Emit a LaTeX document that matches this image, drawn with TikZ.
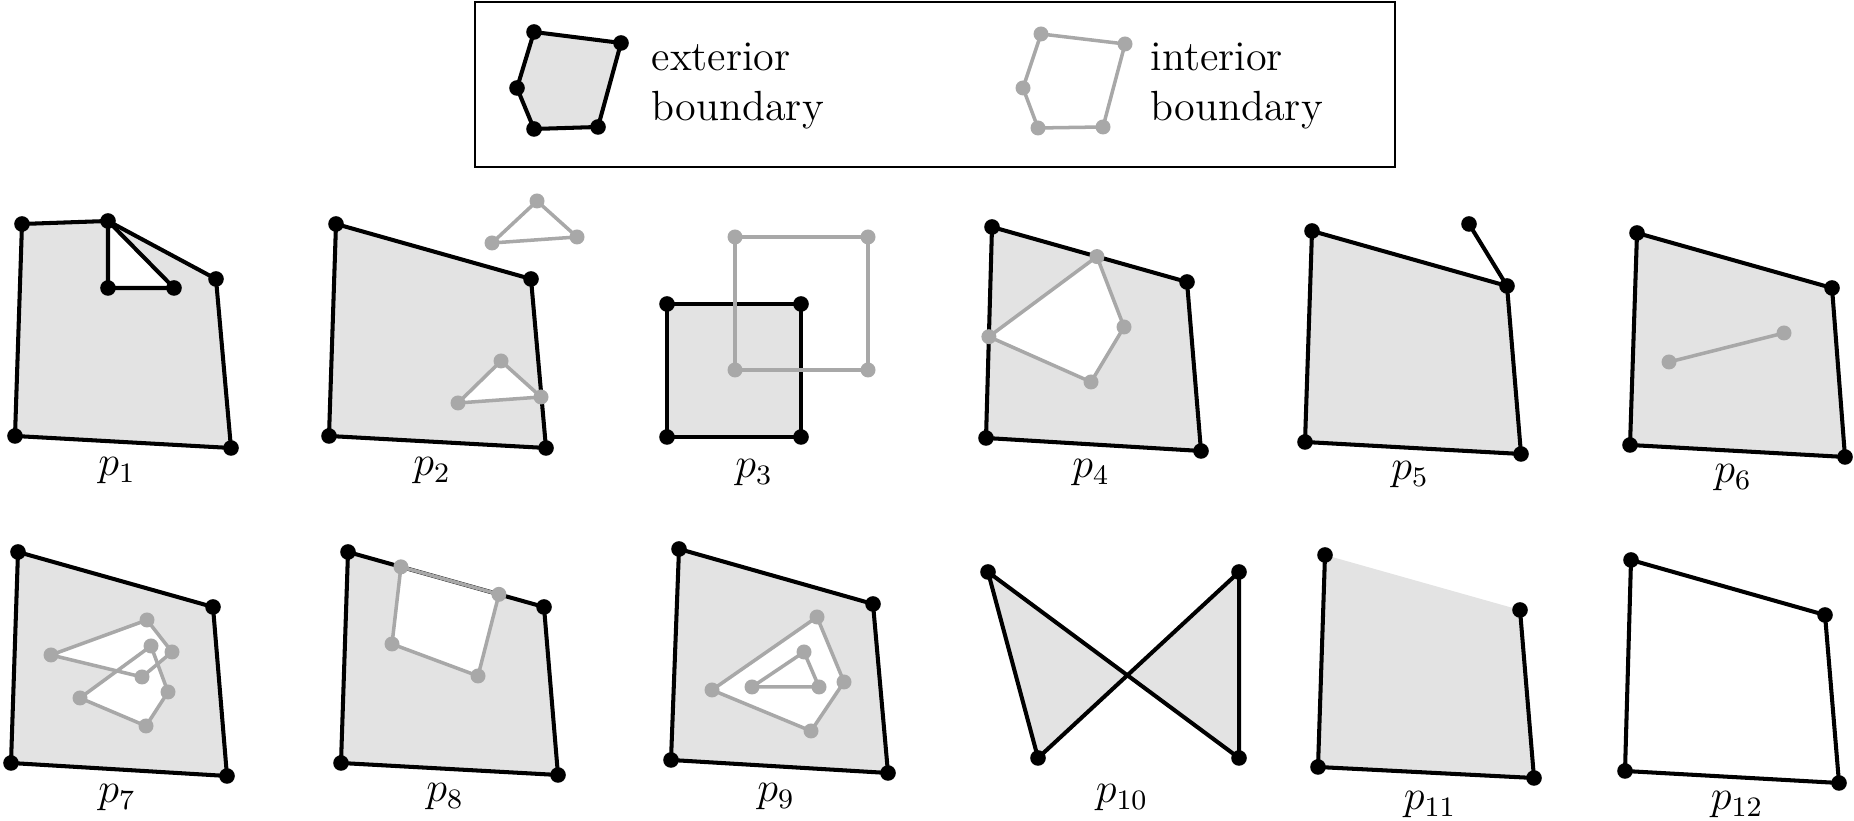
\documentclass[tikz,border=0pt]{standalone}
\usepackage{amsmath}
\usepackage{amssymb}
\usetikzlibrary{calc}

\definecolor{shade}{gray}{0.89}
\definecolor{holegray}{gray}{0.66}

\tikzset{
  ext/.style={line width=1.15pt, line join=round},
  int/.style={line width=1pt, holegray, line join=round},
  area/.style={fill=shade},
  hole/.style={fill=white},
  lbl/.style={font=\large},
}

% dots on the vertices
\newcommand{\extdots}[1]{\foreach \v in {#1} \fill (\v) circle (0.078);}
\newcommand{\intdots}[1]{\foreach \v in {#1} \fill[holegray] (\v) circle (0.075);}

\begin{document}
\begin{tikzpicture}
\useasboundingbox (0,0) rectangle (18.54,8.21);

% legend
\draw[line width=0.8pt] (4.75,6.54) rectangle (13.95,8.19);
\coordinate (le1) at (5.34,7.89);
\coordinate (le2) at (6.21,7.78);
\coordinate (le3) at (5.98,6.94);
\coordinate (le4) at (5.34,6.92);
\coordinate (le5) at (5.17,7.33);
\fill[area] (le1) -- (le2) -- (le3) -- (le4) -- (le5) -- cycle;
\draw[ext] (le1) -- (le2) -- (le3) -- (le4) -- (le5) -- cycle;
\extdots{le1,le2,le3,le4,le5}
\node[lbl, anchor=west, align=left, inner sep=0pt] (extlbl) at (6.51,7.35) {exterior\\boundary};
\coordinate (li1) at (10.41,7.87);
\coordinate (li2) at (11.25,7.77);
\coordinate (li3) at (11.03,6.94);
\coordinate (li4) at (10.38,6.93);
\coordinate (li5) at (10.23,7.33);
\draw[int] (li1) -- (li2) -- (li3) -- (li4) -- (li5) -- cycle;
\intdots{li1,li2,li3,li4,li5}
\node[lbl, anchor=west, align=left, inner sep=0pt] (intlbl) at (11.50,7.35) {interior\\boundary};

% p1
\coordinate (p1a) at (0.22,5.97);
\coordinate (p1b) at (1.08,6.00);
\coordinate (p1c) at (2.16,5.42);
\coordinate (p1d) at (2.31,3.73);
\coordinate (p1e) at (0.15,3.85);
\coordinate (p1f) at (1.08,5.33);
\coordinate (p1g) at (1.74,5.33);
\fill[area] (p1a) -- (p1b) -- (p1c) -- (p1d) -- (p1e) -- cycle;
\fill[hole] (p1b) -- (p1f) -- (p1g) -- cycle;
\draw[ext] (p1a) -- (p1b) -- (p1c) -- (p1d) -- (p1e) -- cycle;
\draw[ext] (p1b) -- (p1f) -- (p1g) -- cycle;
\extdots{p1a,p1b,p1c,p1d,p1e,p1f,p1g}
\node[lbl] (l1) at (1.17,3.50) {$p_{1}$};

% p2
\coordinate (p2a) at (3.36,5.97);
\coordinate (p2b) at (5.31,5.42);
\coordinate (p2c) at (5.46,3.73);
\coordinate (p2d) at (3.29,3.85);
\coordinate (p2e) at (5.37,6.20);
\coordinate (p2f) at (4.92,5.78);
\coordinate (p2g) at (5.77,5.84);
\coordinate (p2h) at (5.01,4.60);
\coordinate (p2i) at (4.58,4.18);
\coordinate (p2j) at (5.41,4.24);
\fill[area] (p2a) -- (p2b) -- (p2c) -- (p2d) -- cycle;
\fill[hole] (p2h) -- (p2i) -- (p2j) -- cycle;
\draw[ext] (p2a) -- (p2b) -- (p2c) -- (p2d) -- cycle;
\extdots{p2a,p2b,p2c,p2d}
\draw[int] (p2e) -- (p2f) -- (p2g) -- cycle;
\draw[int] (p2h) -- (p2i) -- (p2j) -- cycle;
\intdots{p2e,p2f,p2g,p2h,p2i,p2j}
\node[lbl] (l2) at (4.32,3.50) {$p_{2}$};

% p3
\coordinate (p3a) at (6.67,5.17);
\coordinate (p3b) at (8.01,5.17);
\coordinate (p3c) at (8.01,3.84);
\coordinate (p3d) at (6.67,3.84);
\coordinate (p3e) at (7.35,5.84);
\coordinate (p3f) at (8.68,5.84);
\coordinate (p3g) at (8.68,4.51);
\coordinate (p3h) at (7.35,4.51);
\fill[area] (p3a) -- (p3b) -- (p3c) -- (p3d) -- cycle;
\draw[ext] (p3a) -- (p3b) -- (p3c) -- (p3d) -- cycle;
\extdots{p3a,p3b,p3c,p3d}
\draw[int] (p3e) -- (p3f) -- (p3g) -- (p3h) -- cycle;
\intdots{p3e,p3f,p3g,p3h}
\node[lbl] (l3) at (7.54,3.48) {$p_{3}$};

% p4
\coordinate (p4a) at (9.92,5.94);
\coordinate (p4b) at (11.87,5.39);
\coordinate (p4c) at (12.01,3.70);
\coordinate (p4d) at (9.86,3.83);
\coordinate (p4e) at ($(p4a)!0.538!(p4b)$);
\coordinate (p4f) at (11.24,4.94);
\coordinate (p4g) at (10.91,4.39);
\coordinate (p4h) at ($(p4d)!0.48!(p4a)$);
\fill[area] (p4a) -- (p4b) -- (p4c) -- (p4d) -- cycle;
\fill[hole] (p4e) -- (p4f) -- (p4g) -- (p4h) -- cycle;
\draw[ext] (p4a) -- (p4b) -- (p4c) -- (p4d) -- cycle;
\extdots{p4a,p4b,p4c,p4d}
\draw[int] (p4e) -- (p4f) -- (p4g) -- (p4h) -- cycle;
\intdots{p4e,p4f,p4g,p4h}
\node[lbl] (l4) at (10.91,3.48) {$p_{4}$};

% p5
\coordinate (p5a) at (13.12,5.90);
\coordinate (p5b) at (15.07,5.35);
\coordinate (p5c) at (15.21,3.67);
\coordinate (p5d) at (13.05,3.79);
\coordinate (p5e) at (14.69,5.97);
\fill[area] (p5a) -- (p5b) -- (p5c) -- (p5d) -- cycle;
\draw[ext] (p5a) -- (p5b) -- (p5c) -- (p5d) -- cycle;
\draw[ext] (p5b) -- (p5e);
\extdots{p5a,p5b,p5c,p5d,p5e}
\node[lbl] (l5) at (14.10,3.46) {$p_{5}$};

% p6
\coordinate (p6a) at (16.37,5.88);
\coordinate (p6b) at (18.32,5.33);
\coordinate (p6c) at (18.45,3.64);
\coordinate (p6d) at (16.30,3.76);
\coordinate (p6e) at (16.69,4.59);
\coordinate (p6f) at (17.84,4.88);
\fill[area] (p6a) -- (p6b) -- (p6c) -- (p6d) -- cycle;
\draw[ext] (p6a) -- (p6b) -- (p6c) -- (p6d) -- cycle;
\extdots{p6a,p6b,p6c,p6d}
\draw[int] (p6e) -- (p6f);
\intdots{p6e,p6f}
\node[lbl] (l6) at (17.33,3.43) {$p_{6}$};

% p7
\coordinate (p7a) at (0.18,2.69);
\coordinate (p7b) at (2.13,2.14);
\coordinate (p7c) at (2.27,0.45);
\coordinate (p7d) at (0.11,0.58);
\coordinate (p7e) at (1.47,2.01);
\coordinate (p7f) at (0.51,1.66);
\coordinate (p7g) at (1.42,1.44);
\coordinate (p7h) at (1.72,1.69);
\coordinate (p7i) at (1.51,1.75);
\coordinate (p7j) at (0.80,1.23);
\coordinate (p7k) at (1.46,0.95);
\coordinate (p7l) at (1.68,1.29);
\fill[area] (p7a) -- (p7b) -- (p7c) -- (p7d) -- cycle;
\fill[hole] (p7e) -- (p7f) -- (p7g) -- (p7h) -- cycle;
\fill[hole] (p7i) -- (p7j) -- (p7k) -- (p7l) -- cycle;
\draw[ext] (p7a) -- (p7b) -- (p7c) -- (p7d) -- cycle;
\extdots{p7a,p7b,p7c,p7d}
\draw[int] (p7e) -- (p7f) -- (p7g) -- (p7h) -- cycle;
\draw[int] (p7i) -- (p7j) -- (p7k) -- (p7l) -- cycle;
\intdots{p7e,p7f,p7g,p7h,p7i,p7j,p7k,p7l}
\node[lbl] (l7) at (1.17,0.23) {$p_{7}$};

% p8
\coordinate (p8a) at (3.48,2.69);
\coordinate (p8b) at (5.44,2.14);
\coordinate (p8c) at (5.58,0.46);
\coordinate (p8d) at (3.41,0.58);
\coordinate (p8e) at ($(p8a)!0.27!(p8b)$);
\coordinate (p8f) at ($(p8a)!0.77!(p8b)$);
\coordinate (p8g) at (4.78,1.45);
\coordinate (p8h) at (3.92,1.77);
\fill[area] (p8a) -- (p8b) -- (p8c) -- (p8d) -- cycle;
\fill[hole] (p8e) -- (p8f) -- (p8g) -- (p8h) -- cycle;
\draw[ext] (p8a) -- (p8b) -- (p8c) -- (p8d) -- cycle;
\extdots{p8a,p8b,p8c,p8d}
\draw[int] (p8e) -- (p8f) -- (p8g) -- (p8h) -- cycle;
\intdots{p8e,p8f,p8g,p8h}
\node[lbl] (l8) at (4.45,0.24) {$p_{8}$};

% p9
\coordinate (p9a) at (6.79,2.72);
\coordinate (p9b) at (8.73,2.17);
\coordinate (p9c) at (8.88,0.48);
\coordinate (p9d) at (6.71,0.61);
\coordinate (p9e) at (8.17,2.04);
\coordinate (p9f) at (8.44,1.39);
\coordinate (p9g) at (8.11,0.90);
\coordinate (p9h) at (7.12,1.31);
\coordinate (p9i) at (8.04,1.69);
\coordinate (p9j) at (8.19,1.34);
\coordinate (p9k) at (7.52,1.34);
\fill[area] (p9a) -- (p9b) -- (p9c) -- (p9d) -- cycle;
\fill[hole] (p9e) -- (p9f) -- (p9g) -- (p9h) -- cycle;
\draw[ext] (p9a) -- (p9b) -- (p9c) -- (p9d) -- cycle;
\extdots{p9a,p9b,p9c,p9d}
\draw[int] (p9e) -- (p9f) -- (p9g) -- (p9h) -- cycle;
\draw[int] (p9i) -- (p9j) -- (p9k) -- cycle;
\intdots{p9e,p9f,p9g,p9h,p9i,p9j,p9k}
\node[lbl] (l9) at (7.76,0.24) {$p_{9}$};

% p10
\coordinate (p10a) at (9.88,2.49);
\coordinate (p10b) at (12.39,0.63);
\coordinate (p10c) at (12.39,2.49);
\coordinate (p10d) at (10.38,0.63);
\fill[area] (p10a) -- (p10b) -- (p10c) -- (p10d) -- cycle;
\draw[ext] (p10a) -- (p10b) -- (p10c) -- (p10d) -- cycle;
\extdots{p10a,p10b,p10c,p10d}
\node[lbl] (l10) at (11.22,0.23) {$p_{10}$};

% p11
\coordinate (p11a) at (13.25,2.66);
\coordinate (p11b) at (15.20,2.11);
\coordinate (p11c) at (15.34,0.43);
\coordinate (p11d) at (13.18,0.54);
\fill[area] (p11a) -- (p11b) -- (p11c) -- (p11d) -- cycle;
\draw[ext] (p11b) -- (p11c) -- (p11d) -- (p11a);
\extdots{p11a,p11b,p11c,p11d}
\node[lbl] (l11) at (14.30,0.16) {$p_{11}$};

% p12
\coordinate (p12a) at (16.31,2.61);
\coordinate (p12b) at (18.25,2.06);
\coordinate (p12c) at (18.39,0.38);
\coordinate (p12d) at (16.25,0.50);
\draw[ext] (p12a) -- (p12b) -- (p12c) -- (p12d) -- cycle;
\extdots{p12a,p12b,p12c,p12d}
\node[lbl] (l12) at (17.37,0.16) {$p_{12}$};
\end{tikzpicture}
\end{document}
